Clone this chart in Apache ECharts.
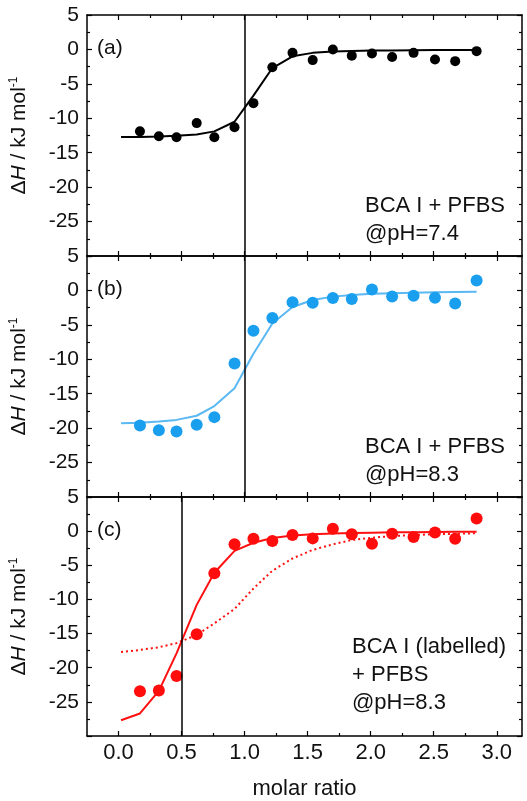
<!DOCTYPE html>
<html>
<head>
<meta charset="utf-8">
<script src="https://cdn.jsdelivr.net/npm/echarts@6/dist/echarts.min.js"></script>
<style>
html,body{margin:0;padding:0;background:#fff;}
#chart{width:527px;height:801px;}
</style>
</head>
<body>
<div id="chart"></div>
<script>
// ---- data ----
const xPts = [0.17, 0.32, 0.46, 0.62, 0.76, 0.92, 1.07, 1.22, 1.38, 1.54, 1.70, 1.85, 2.01, 2.17, 2.34, 2.51, 2.67, 2.84];
const dHa = [-11.9, -12.6, -12.75, -10.7, -12.75, -11.3, -7.8, -2.6, -0.5, -1.55, 0.0, -0.9, -0.6, -1.1, -0.5, -1.45, -1.7, -0.25];
const dHb = [-19.6, -20.3, -20.5, -19.5, -18.4, -10.6, -5.85, -4.0, -1.7, -1.8, -1.1, -1.25, 0.15, -0.87, -0.77, -1.06, -1.9, 1.45];
const dHc = [-23.45, -23.35, -21.2, -15.1, -6.15, -1.93, -1.1, -1.45, -0.58, -1.06, 0.34, -0.44, -1.84, -0.39, -0.87, -0.19, -1.1, 1.84];

const xFit = [0.02, 0.17, 0.32, 0.46, 0.62, 0.76, 0.92, 1.07, 1.22, 1.38, 1.54, 1.70, 1.85, 2.01, 2.17, 2.34, 2.51, 2.67, 2.84];
const fitA = [-12.7, -12.7, -12.65, -12.55, -12.35, -11.9, -10.5, -6.7, -2.7, -1.0, -0.5, -0.3, -0.22, -0.17, -0.14, -0.12, -0.1, -0.1, -0.1];
const fitB = [-19.3, -19.2, -19.05, -18.8, -18.2, -16.8, -14.2, -9.2, -4.8, -2.4, -1.4, -0.9, -0.65, -0.5, -0.4, -0.33, -0.28, -0.24, -0.2];
const fitC = [-27.7, -26.7, -23.4, -17.9, -10.8, -6.1, -2.9, -1.7, -1.0, -0.65, -0.45, -0.35, -0.28, -0.22, -0.18, -0.15, -0.12, -0.1, -0.1];
const fitC2 = [-17.7, -17.4, -17.0, -16.4, -15.2, -13.5, -11.4, -8.4, -5.8, -4.0, -2.75, -1.93, -1.3, -0.97, -0.73, -0.58, -0.44, -0.39, -0.3];

const refLines = [1.0, 1.0, 0.5];
const panelLabels = ['(a)', '(b)', '(c)'];
const panelTexts = ['BCA I + PFBS\n@pH=7.4', 'BCA I + PFBS\n@pH=8.3', 'BCA I (labelled)\n+ PFBS\n@pH=8.3'];

const xMajor = [0, 0.5, 1.0, 1.5, 2.0, 2.5, 3.0];
const xMinor = [0.25, 0.75, 1.25, 1.75, 2.25, 2.75];
const xMin = -0.25, xMax = 3.2;
const yMin = -30, yMax = 5, yStep = 5;
const xName = 'molar ratio';

// ---- styling / layout ----
const FONT = '"Liberation Sans", Arial, Helvetica, sans-serif';
const tops = [15, 256, 497];
const PH = 241;
const dotColor = ['#000000', '#1a9fef', '#ff0d0d'];
const lineColor = ['#000000', '#5ab8f2', '#ff1010'];
const dotSize = [10, 12, 12];
const axisLineStyle = {color: '#000', width: 1.5};
const tickStyle = {color: '#000', width: 1.2};

const grids = [], xAxes = [], yAxes = [], series = [], graphics = [];
const fits = [[fitA], [fitB], [fitC, fitC2]];
const pts = [dHa, dHb, dHc];

for (let i = 0; i < 3; i++) {
  grids.push({left: 84, right: 5, top: tops[i], height: PH});
  const base = {gridIndex: i, type: 'value', min: xMin, max: xMax, splitLine: {show: false}};
  const xi = xAxes.length;
  xAxes.push(Object.assign({}, base, {
    position: 'bottom',
    axisLine: {show: true, onZero: false, lineStyle: axisLineStyle},
    axisTick: {show: true, inside: true, length: 5, customValues: xMajor, lineStyle: tickStyle},
    axisLabel: {show: i === 2, customValues: xMajor, formatter: v => v.toFixed(1), fontSize: 22, color: '#111', margin: 6, fontFamily: FONT},
    name: i === 2 ? xName : '',
    nameLocation: 'middle', nameGap: 42,
    nameTextStyle: {fontSize: 22, color: '#111', fontFamily: FONT}
  }));
  xAxes.push(Object.assign({}, base, {
    position: 'bottom',
    axisLine: {show: false, onZero: false},
    axisTick: {show: true, inside: true, length: 3, customValues: xMinor, lineStyle: tickStyle},
    axisLabel: {show: false}
  }));
  xAxes.push(Object.assign({}, base, {
    position: 'top',
    axisLine: {show: true, onZero: false, lineStyle: axisLineStyle},
    axisTick: {show: true, inside: true, length: 5, customValues: xMajor, lineStyle: tickStyle},
    axisLabel: {show: false}
  }));
  xAxes.push(Object.assign({}, base, {
    position: 'top',
    axisLine: {show: false, onZero: false},
    axisTick: {show: true, inside: true, length: 3, customValues: xMinor, lineStyle: tickStyle},
    axisLabel: {show: false}
  }));

  const yi = yAxes.length;
  const ybase = {gridIndex: i, type: 'value', min: yMin, max: yMax, interval: yStep, splitLine: {show: false}, minorSplitLine: {show: false}};
  yAxes.push(Object.assign({}, ybase, {
    position: 'left',
    axisLine: {show: true, onZero: false, lineStyle: axisLineStyle},
    axisTick: {show: true, inside: true, length: 5, lineStyle: tickStyle},
    minorTick: {show: true, splitNumber: 2, length: 3, lineStyle: tickStyle},
    axisLabel: {formatter: v => (v === yMin ? '' : String(v)), fontSize: 21, color: '#111', margin: 8, fontFamily: FONT},
    name: '{a|Δ}{i|H}{a| / kJ mol}{s|-1}',
    nameLocation: 'middle', nameGap: 57, nameRotate: 90,
    nameTextStyle: {
      fontFamily: FONT, color: '#111',
      rich: {
        a: {fontSize: 21, fontFamily: FONT, color: '#111', lineHeight: 22},
        i: {fontSize: 21, fontFamily: FONT, fontStyle: 'italic', color: '#111', lineHeight: 22},
        s: {fontSize: 12, fontFamily: FONT, color: '#111', lineHeight: 12, verticalAlign: 'top'}
      }
    }
  }));
  yAxes.push(Object.assign({}, ybase, {
    position: 'right',
    axisLine: {show: true, onZero: false, lineStyle: axisLineStyle},
    axisTick: {show: true, inside: true, length: 5, lineStyle: tickStyle},
    minorTick: {show: true, splitNumber: 2, length: 3, lineStyle: tickStyle},
    axisLabel: {show: false}
  }));

  fits[i].forEach((f, k) => {
    const s = {
      type: 'line', xAxisIndex: xi, yAxisIndex: yi,
      data: xFit.map((x, j) => [x, f[j]]),
      showSymbol: false, symbol: 'none', smooth: false, silent: true,
      lineStyle: {color: lineColor[i], width: 2, type: k === 1 ? [2, 3] : 'solid'},
      z: 2
    };
    if (k === 0) {
      s.markLine = {
        silent: true, symbol: ['none', 'none'], label: {show: false},
        lineStyle: {color: '#000', width: 1.5, type: 'solid'},
        data: [{xAxis: refLines[i]}]
      };
    }
    series.push(s);
  });
  series.push({
    type: 'scatter', xAxisIndex: xi, yAxisIndex: yi,
    data: xPts.map((x, j) => [x, pts[i][j]]),
    symbol: 'circle', symbolSize: dotSize[i],
    itemStyle: {color: dotColor[i], opacity: 1}, z: 3
  });

  graphics.push({
    type: 'text', left: 97, top: tops[i] + 23,
    style: {text: panelLabels[i], font: '21px ' + FONT, fill: '#111'}
  });
  graphics.push({
    type: 'text', left: i === 2 ? 352 : 365, top: tops[i] + (i === 2 ? 136 : 177),
    style: {text: panelTexts[i], font: '22px ' + FONT, fill: '#111', lineHeight: 28}
  });
}

const chart = echarts.init(document.getElementById('chart'), null, {renderer: 'canvas'});
chart.setOption({
  animation: false,
  backgroundColor: '#fff',
  grid: grids, xAxis: xAxes, yAxis: yAxes, series: series, graphic: graphics
});
</script>
</body>
</html>
